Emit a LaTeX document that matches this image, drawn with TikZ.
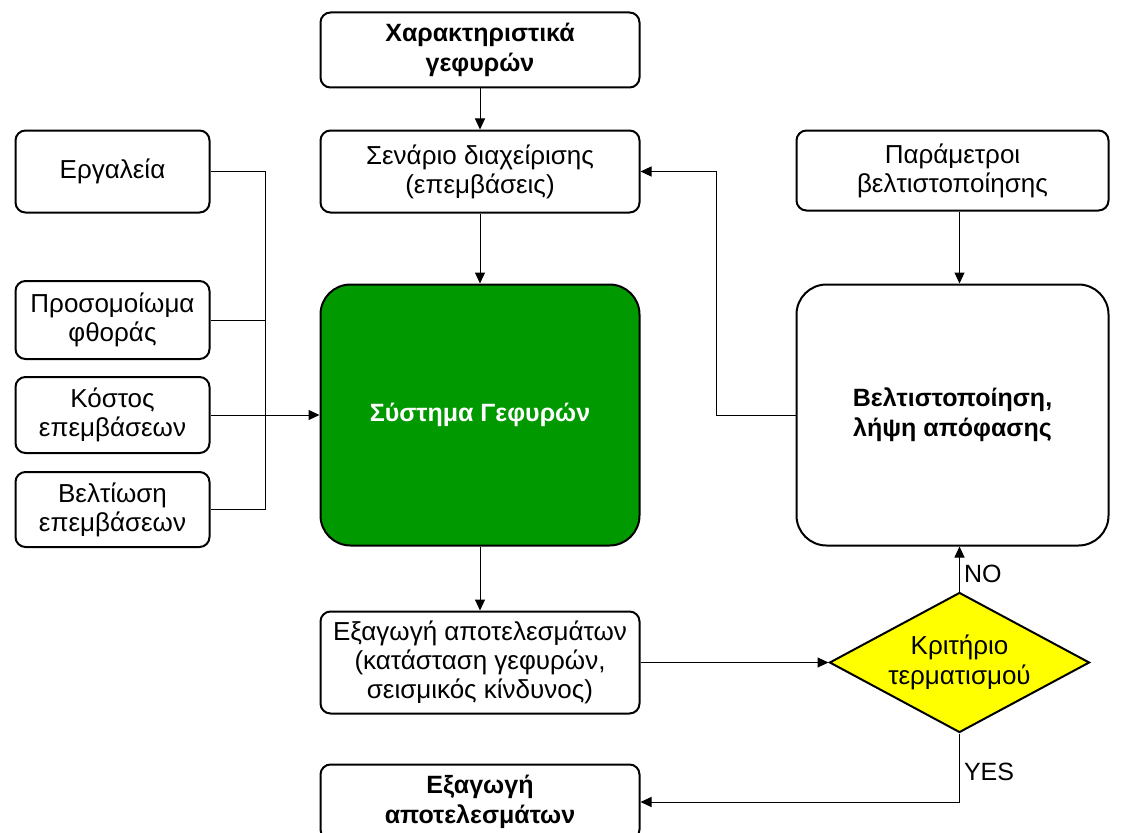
\documentclass[tikz,border=0pt]{standalone}
\usepackage{fontspec}
\setmainfont{Liberation Sans}
\usepackage{xcolor}
\usetikzlibrary{positioning,shapes.geometric,arrows.meta}
\definecolor{sysgreen}{HTML}{009900}
\definecolor{crityellow}{HTML}{FFFF00}

\begin{document}
\begin{tikzpicture}[
  x=1pt, y=-1pt,
  box/.style={rectangle, draw, line width=2pt, rounded corners=10pt, align=center, inner sep=2pt,
    font=\fontsize{26}{29}\selectfont, minimum width=319pt, minimum height=80pt},
  sidebox/.style={box, minimum width=194pt},
  bigbox/.style={box, rounded corners=30pt, minimum height=261pt},
  decision/.style={diamond, draw, line width=2pt, fill=crityellow, align=center, inner sep=0pt,
    font=\fontsize{26}{30}\selectfont, minimum width=260pt, minimum height=140pt, aspect=1.86},
  arrow/.style={-{Triangle[length=11pt,width=10pt]}, line width=1pt},
  lbl/.style={font=\fontsize{25}{28}\selectfont, inner sep=4pt}
]
  \useasboundingbox (0,0) rectangle (1126,832);
  % Nodes
  \node[box, minimum height=75pt, font=\fontsize{25}{30}\selectfont\bfseries] (top) at (480,50) {Χαρακτηριστικά\\γεφυρών};
  \node[box, minimum height=82pt, below=41pt of top] (scen) {Σενάριο διαχείρισης\\(επεμβάσεις)};
  \node[bigbox, fill=sysgreen, text=white, font=\fontsize{25}{29}\selectfont\bfseries, below=70pt of scen] (sys) {Σύστημα Γεφυρών};
  \node[box, minimum height=102pt, below=64pt of sys] (res) {Εξαγωγή αποτελεσμάτων\\(κατάσταση γεφυρών,\\σεισμικός κίνδυνος)};
  \node[box, minimum height=75pt, font=\fontsize{25}{30}\selectfont\bfseries, below=49pt of res] (out) {Εξαγωγή\\αποτελεσμάτων};
  \node[sidebox, minimum height=82pt, left=109pt of scen] (tools) {Εργαλεία};
  \node[sidebox, minimum height=76pt, left=109pt of sys] (cost) {Κόστος\\επεμβάσεων};
  \node[sidebox, minimum height=78pt, above=16pt of cost] (model) {Προσομοίωμα\\φθοράς};
  \node[sidebox, minimum height=75pt, below=17pt of cost] (impr) {Βελτίωση\\επεμβάσεων};
  \node[bigbox, minimum width=312pt, font=\fontsize{25}{30}\selectfont\bfseries, right=155pt of sys] (opt) {Βελτιστοποίηση,\\λήψη απόφασης};
  \node[box, minimum width=312pt, above=72pt of opt] (param) {Παράμετροι\\βελτιστοποίησης};
  \node[decision, right=188pt of res] (crit) {Κριτήριο\\τερματισμού};
  \coordinate (bus) at (265,0);
  \coordinate (back) at (716,0);

  % Arrows
  \draw[arrow] (top) -- (scen);
  \draw[arrow] (scen) -- (sys);
  \draw[arrow] (sys) -- (res);
  \draw[line width=1pt] (tools.east) -- (tools.east -| bus) -- (impr.east -| bus) -- (impr.east);
  \draw[line width=1pt] (model.east) -- (model.east -| bus);
  \draw[arrow] (cost) -- (sys);
  \draw[arrow] (param.south -| crit) -- (opt.north -| crit);
  \draw[arrow] (opt.west) -- (opt.west -| back) |- (scen.east);
  \draw[arrow] (res) -- (crit);
  \draw[arrow] (crit.north) -- node[lbl, right, pos=0.4] {NO} (opt.south -| crit);
  \draw[arrow] (crit.south) |- node[lbl, right, pos=0.28] {YES} (out.east);
\end{tikzpicture}
\end{document}
